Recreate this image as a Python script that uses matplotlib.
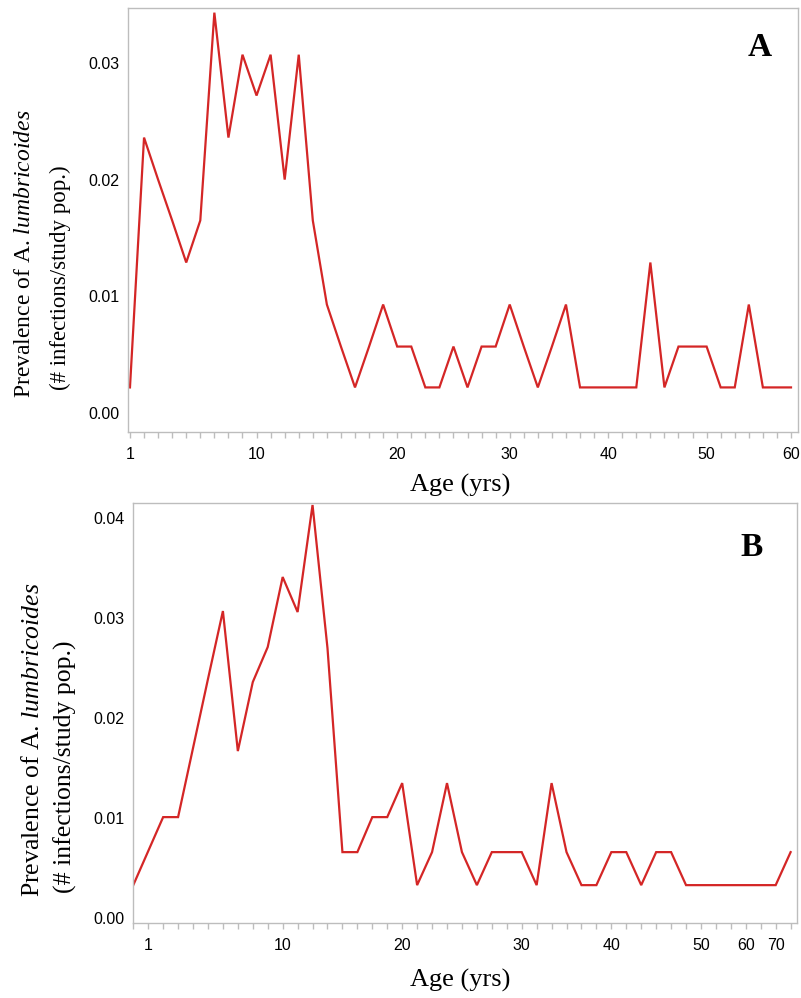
import matplotlib
matplotlib.use("Agg")
import matplotlib.pyplot as plt

# ages (categories) and prevalence
ages_a = list(range(1, 21)) + [21, 22, 23, 24, 25, 26, 28, 30,
                               32, 33, 35, 36, 37, 38, 40,
                               42, 43, 45, 46, 47, 48, 50,
                               52, 53, 55, 56, 57, 60]
prev_a = [0.0022, 0.0236, 0.0200, 0.0165, 0.0129, 0.0165, 0.0343, 0.0236,
          0.0307, 0.0272, 0.0307, 0.0200, 0.0307, 0.0165, 0.0093, 0.0057,
          0.0022, 0.0057, 0.0093, 0.0057, 0.0057, 0.0022, 0.0022, 0.0057,
          0.0022, 0.0057, 0.0057, 0.0093, 0.0057, 0.0022, 0.0057, 0.0093,
          0.0022, 0.0022, 0.0022, 0.0022, 0.0022, 0.0129, 0.0022, 0.0057,
          0.0057, 0.0057, 0.0022, 0.0022, 0.0093, 0.0022, 0.0022, 0.0022]
ticks_a = [1, 10, 20, 30, 40, 50, 60]

ages_b = list(range(0, 11)) + [11, 12, 13, 14, 15, 16, 18, 20,
                               21, 22, 23, 24, 25, 26, 28, 30,
                               32, 33, 35, 36, 38, 40,
                               42, 43, 45, 46, 48, 50,
                               53, 56, 60, 65, 70, 72]
prev_b = [0.0033, 0.0067, 0.0101, 0.0101, 0.0170, 0.0239, 0.0307, 0.0167,
          0.0236, 0.0271, 0.0341, 0.0306, 0.0413, 0.0270, 0.0066, 0.0066,
          0.0101, 0.0101, 0.0135, 0.0033, 0.0066, 0.0135, 0.0066, 0.0033,
          0.0066, 0.0066, 0.0066, 0.0033, 0.0135, 0.0066, 0.0033, 0.0033,
          0.0066, 0.0066, 0.0033, 0.0066, 0.0066, 0.0033, 0.0033, 0.0033,
          0.0033, 0.0033, 0.0033, 0.0033, 0.0066]
ticks_b = [1, 10, 20, 30, 40, 50, 60, 70]

plt.rcParams['font.family'] = ['Liberation Sans', 'DejaVu Sans']
plt.rcParams['mathtext.fontset'] = 'custom'
plt.rcParams['mathtext.rm'] = 'Liberation Serif'
plt.rcParams['mathtext.it'] = 'Liberation Serif:italic'

fig = plt.figure(figsize=(8.01, 9.98), dpi=100)
ax_a = fig.add_axes([0.1598, 0.567, 0.8365, 0.425])
ax_b = fig.add_axes([0.166, 0.075, 0.8285, 0.421])

line_col = '#d42626'
grey = '#bdbdbd'


def style(ax, ages, prev, ticks, xlim, ylim, yticks):
    pos = list(range(len(ages)))
    ax.plot(pos, prev, color=line_col, lw=1.6, solid_joinstyle='miter')
    ax.set_xlim(*xlim)
    ax.set_ylim(*ylim)
    ax.set_xticks(pos, minor=True)
    ax.set_xticks([ages.index(t) for t in ticks])
    ax.set_xticklabels([str(t) for t in ticks])
    ax.set_yticks(yticks)
    ax.set_yticklabels(['%.2f' % v for v in yticks])
    for s in ax.spines.values():
        s.set_color(grey)
        s.set_linewidth(1.0)
    ax.tick_params(axis='x', which='both', direction='out', length=4,
                   color=grey, width=1.0, labelsize=11.5, pad=7)
    ax.tick_params(axis='y', length=0, labelsize=11.5, pad=6)


style(ax_a, ages_a, prev_a, ticks_a, (-0.14, 47.5), (-0.00163, 0.0347),
      [0.0, 0.01, 0.02, 0.03])
style(ax_b, ages_b, prev_b, ticks_b, (-0.02, 44.4), (-0.0005, 0.0415),
      [0.0, 0.01, 0.02, 0.03, 0.04])

serif = 'Liberation Serif'
line1 = r'Prevalence of A. $\mathit{lumbricoides}$'
line2 = '(# infections/study pop.)'

# y labels (two lines, roughly bottom aligned)
fig.text(25 / 801, 0.601, line1, rotation=90, ha='center', va='bottom',
         family=serif, fontsize=17)
fig.text(60 / 801, 0.609, line2, rotation=90, ha='center', va='bottom',
         family=serif, fontsize=16.5)
fig.text(33 / 801, 0.101, line1, rotation=90, ha='center', va='bottom',
         family=serif, fontsize=18.5)
fig.text(65 / 801, 0.105, line2, rotation=90, ha='center', va='bottom',
         family=serif, fontsize=18.5)

# x labels
fig.text(460 / 801, 1 - 485 / 998, 'Age (yrs)', ha='center', va='center',
         family=serif, fontsize=19)
fig.text(460 / 801, 1 - 980 / 998, 'Age (yrs)', ha='center', va='center',
         family=serif, fontsize=19)

# panel letters
fig.text(760 / 801, 1 - 47 / 998, 'A', ha='center', va='center',
         family=serif, fontsize=24, fontweight='bold')
fig.text(752 / 801, 1 - 547 / 998, 'B', ha='center', va='center',
         family=serif, fontsize=24, fontweight='bold')

fig.savefig('out.png', dpi=100)
